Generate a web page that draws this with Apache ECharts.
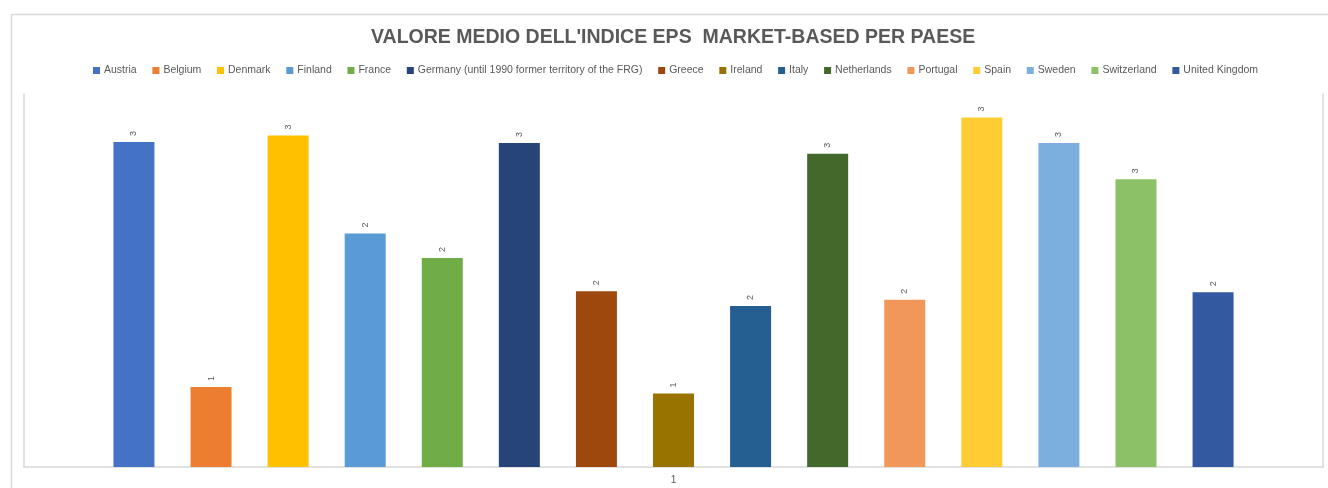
<!DOCTYPE html>
<html>
<head>
<meta charset="utf-8">
<script src="https://cdn.jsdelivr.net/npm/echarts@6/dist/echarts.min.js"></script>
<style>
  html, body { margin: 0; padding: 0; background: #ffffff; }
  #chart { width: 1328px; height: 488px; }
</style>
</head>
<body>
<div id="chart"></div>
<script>
// Average EPS market-based index by country
const titleText = "VALORE MEDIO DELL'INDICE EPS  MARKET-BASED PER PAESE";
const categories = ['1'];
const countries = [
  'Austria', 'Belgium', 'Denmark', 'Finland', 'France',
  'Germany (until 1990 former territory of the FRG)', 'Greece', 'Ireland', 'Italy',
  'Netherlands', 'Portugal', 'Spain', 'Sweden', 'Switzerland', 'United Kingdom'
];
const values = [3.05, 0.75, 3.11, 2.19, 1.96, 3.04, 1.65, 0.69, 1.51, 2.94, 1.57, 3.28, 3.04, 2.70, 1.64];
const colors = [
  '#4472C4', '#ED7D31', '#FFC000', '#5B9BD5', '#70AD47',
  '#264478', '#9E480E', '#997300', '#255E91', '#43682B',
  '#F1975A', '#FFCD33', '#7CAFDD', '#8CC168', '#335AA1'
];

const textGray = '#595959';
const frameGray = '#d9d9d9';
const font = 'Liberation Sans';

const series = countries.map((name, i) => ({
  name: name,
  type: 'bar',
  data: [values[i]],
  barWidth: 41,
  barGap: '88%',
  itemStyle: { color: colors[i] },
  label: {
    show: true,
    position: 'top',
    rotate: 90,
    align: 'left',
    verticalAlign: 'middle',
    distance: 6,
    fontSize: 9,
    fontFamily: font,
    color: textGray,
    formatter: p => Math.round(p.value).toString()
  }
}));

const chart = echarts.init(document.getElementById('chart'), null, { renderer: 'canvas' });
chart.setOption({
  animation: false,
  backgroundColor: '#ffffff',
  title: {
    text: titleText,
    left: 366,
    top: 23,
    textStyle: { fontFamily: font, fontSize: 19.5, fontWeight: 'bold', color: textGray }
  },
  legend: {
    top: 60,
    left: 88,
    icon: 'rect',
    itemWidth: 7,
    itemHeight: 7,
    itemGap: 15.7,
    textStyle: { fontFamily: font, fontSize: 10.5, color: textGray, padding: [0, 0, 0, -1] },
    data: countries
  },
  graphic: [{
    type: 'rect',
    left: 9, top: 12,
    shape: { width: 1400, height: 600 },
    style: { fill: 'none', stroke: frameGray, lineWidth: 1.5 },
    silent: true,
    z: -1
  }],
  grid: { left: 24, right: 5, top: 94, bottom: 21, containLabel: false },
  xAxis: {
    type: 'category',
    data: categories,
    axisLine: { show: true, lineStyle: { color: frameGray, width: 1.5 } },
    axisTick: { show: false },
    axisLabel: { color: textGray, fontFamily: font, fontSize: 10, margin: 8 }
  },
  yAxis: [{
    type: 'value',
    min: 0,
    max: 3.5,
    interval: 0.5,
    axisLine: { show: true, lineStyle: { color: frameGray, width: 1.5 } },
    axisTick: { show: false },
    axisLabel: { show: false },
    splitLine: { show: false }
  }, {
    type: 'value',
    position: 'right',
    min: 0,
    max: 3.5,
    interval: 0.5,
    axisLine: { show: true, lineStyle: { color: frameGray, width: 1.5 } },
    axisTick: { show: false },
    axisLabel: { show: false },
    splitLine: { show: false }
  }],
  series: series
});
</script>
</body>
</html>
